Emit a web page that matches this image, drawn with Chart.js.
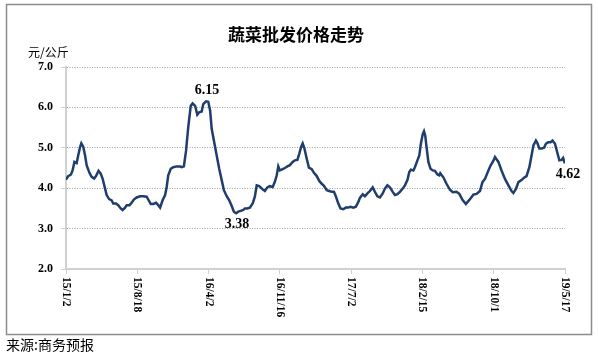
<!DOCTYPE html>
<html>
<head>
<meta charset="utf-8">
<script src="https://cdn.jsdelivr.net/npm/chart.js@4.4.0/dist/chart.umd.min.js"></script>
<style>
  body { margin: 0; background: #fff; }
</style>
</head>
<body>
<canvas id="priceChart" width="598" height="355"></canvas>
<script>
// days since 2015-01-02
const days = [
  0, 7, 16, 21, 27, 34, 39, 45, 49, 55, 61, 66, 75, 82, 90, 96, 104, 111, 117, 125,
  130, 138, 146, 151, 160, 167, 175, 181, 189, 194, 203, 210, 217, 226, 237, 247, 258, 263, 271, 279,
  288, 295, 301, 309, 317, 322, 327, 335, 343, 354, 365, 370, 377, 384, 391, 399, 405, 413, 420, 426,
  434, 439, 448, 455, 461, 466, 473, 482, 490, 498, 505, 514, 522, 530, 537, 544, 551, 559, 567, 572,
  580, 588, 597, 604, 610, 618, 629, 636, 644, 652, 661, 668, 674, 679, 684, 693, 700, 708, 716, 725,
  732, 740, 746, 752, 757, 762, 770, 777, 786, 793, 802, 810, 818, 825, 834, 842, 850, 857, 863, 871,
  878, 887, 895, 903, 910, 919, 927, 935, 940, 949, 956, 964, 972, 981, 988, 996, 1004, 1013, 1020, 1028,
  1036, 1045, 1052, 1060, 1068, 1077, 1084, 1092, 1098, 1103, 1111, 1116, 1124, 1130, 1135, 1141, 1145, 1149, 1153, 1159,
  1166, 1173, 1180, 1188, 1194, 1197, 1207, 1217, 1228, 1237, 1249, 1258, 1268, 1279, 1290, 1303, 1313, 1324, 1332, 1340,
  1351, 1358, 1367, 1372, 1383, 1393, 1404, 1415, 1425, 1431, 1439, 1447, 1457, 1465, 1473, 1482, 1489, 1495, 1503, 1507,
  1514, 1521, 1529, 1535, 1542, 1550, 1556, 1564, 1571, 1578, 1585, 1590, 1594, 1596
];
const prices = [
  4.21, 4.30, 4.34, 4.44, 4.65, 4.62, 4.81, 5.02, 5.11, 5.03, 4.81, 4.57, 4.38, 4.28, 4.24, 4.30, 4.43, 4.36, 4.24, 3.99,
  3.83, 3.73, 3.70, 3.62, 3.62, 3.58, 3.50, 3.46, 3.52, 3.58, 3.58, 3.64, 3.72, 3.77, 3.80, 3.80, 3.79, 3.72, 3.61, 3.61,
  3.64, 3.58, 3.52, 3.70, 3.83, 4.03, 4.32, 4.48, 4.52, 4.54, 4.54, 4.52, 4.54, 4.93, 5.51, 6.04, 6.10, 6.04, 5.82, 5.88,
  5.90, 6.08, 6.15, 6.14, 5.92, 5.47, 5.18, 4.81, 4.48, 4.20, 3.95, 3.80, 3.70, 3.56, 3.42, 3.38, 3.42, 3.44, 3.46, 3.50,
  3.50, 3.52, 3.62, 3.79, 4.07, 4.05, 3.97, 3.93, 4.02, 4.05, 4.03, 4.16, 4.32, 4.54, 4.44, 4.47, 4.50, 4.54, 4.57, 4.65,
  4.69, 4.70, 4.85, 5.02, 5.11, 5.00, 4.73, 4.51, 4.47, 4.38, 4.30, 4.18, 4.11, 4.06, 3.95, 3.93, 3.91, 3.91, 3.80, 3.62,
  3.50, 3.48, 3.52, 3.52, 3.54, 3.52, 3.54, 3.66, 3.76, 3.85, 3.80, 3.87, 3.93, 4.02, 3.91, 3.80, 3.77, 3.87, 3.99, 4.07,
  4.02, 3.91, 3.83, 3.85, 3.91, 3.99, 4.07, 4.20, 4.40, 4.46, 4.44, 4.52, 4.69, 4.81, 5.10, 5.34, 5.41, 5.30, 5.03, 4.65,
  4.48, 4.44, 4.43, 4.34, 4.32, 4.37, 4.27, 4.11, 3.96, 3.90, 3.91, 3.86, 3.71, 3.61, 3.71, 3.84, 3.86, 3.93, 4.15, 4.23,
  4.44, 4.56, 4.68, 4.77, 4.65, 4.44, 4.23, 4.07, 3.93, 3.88, 3.98, 4.15, 4.20, 4.26, 4.30, 4.52, 4.81, 5.06, 5.18, 5.13,
  4.98, 4.98, 5.00, 5.10, 5.14, 5.14, 5.18, 5.10, 4.89, 4.69, 4.70, 4.75, 4.65, 4.62
];
const tickDays = [0, 228, 456, 684, 912, 1140, 1368, 1596];
const tickLabels = ['15/1/2', '15/8/18', '16/4/2', '16/11/16', '17/7/2', '18/2/15', '18/10/1', '19/5/17'];

const titleText = '蔬菜批发价格走势';
const unitText = '元/公斤';
const sourceText = '来源:商务预报';

const lineColor = '#1f3d6d';
const serif = '"Liberation Serif", "DejaVu Serif", serif';
const cjk = '"Noto Sans CJK SC", sans-serif';

const points = days.map((d, i) => ({ x: d, y: prices[i] }));

// frame, title, unit, source, rotated date labels and value notes
const decorations = {
  id: 'decorations',
  beforeDraw(chart) {
    const ctx = chart.ctx;
    ctx.save();
    ctx.fillStyle = '#fff';
    ctx.fillRect(0, 0, chart.width, chart.height);
    ctx.strokeStyle = '#8c8c8c';
    ctx.lineWidth = 1.5;
    ctx.strokeRect(6.5, 4.5, 585, 330);
    ctx.restore();
  },
  afterDraw(chart) {
    const ctx = chart.ctx;
    const xs = chart.scales.x;
    const bottom = chart.chartArea.bottom;
    ctx.save();
    ctx.fillStyle = '#000';

    ctx.font = 'bold 17px ' + cjk;
    ctx.textAlign = 'center';
    ctx.textBaseline = 'middle';
    ctx.fillText(titleText, 296, 35);

    ctx.font = '12px ' + cjk;
    ctx.textAlign = 'left';
    ctx.fillText(unitText, 28, 52);

    ctx.font = '14px ' + cjk;
    ctx.fillText(sourceText, 6, 345);

    ctx.font = 'bold 11.5px ' + serif;
    tickDays.forEach((d, i) => {
      const x = xs.getPixelForValue(d);
      ctx.save();
      ctx.translate(x, bottom + 8);
      ctx.rotate(Math.PI / 2);
      ctx.textAlign = 'left';
      ctx.textBaseline = 'middle';
      ctx.fillText(tickLabels[i], 0, 0);
      ctx.restore();
    });

    const pts = chart.getDatasetMeta(0).data;
    let hi = 0, lo = 0;
    prices.forEach((p, i) => {
      if (p > prices[hi]) hi = i;
      if (p < prices[lo]) lo = i;
    });
    const last = prices.length - 1;
    ctx.font = 'bold 14px ' + serif;
    ctx.textAlign = 'center';
    ctx.fillText(prices[hi].toFixed(2), pts[hi].x + 1, pts[hi].y - 11);
    ctx.fillText(prices[lo].toFixed(2), pts[lo].x + 1, pts[lo].y + 11);
    ctx.fillText(prices[last].toFixed(2), pts[last].x + 3, pts[last].y + 11);
    ctx.restore();
  }
};

new Chart(document.getElementById('priceChart'), {
  type: 'line',
  data: {
    datasets: [{
      data: points,
      borderColor: lineColor,
      borderWidth: 2.5,
      pointRadius: 0,
      tension: 0,
      fill: false,
    }],
  },
  options: {
    responsive: false,
    animation: false,
    layout: { padding: { left: 0, right: 33, top: 67, bottom: 26 } },
    plugins: {
      legend: { display: false },
      tooltip: { enabled: false },
    },
    scales: {
      x: {
        type: 'linear',
        min: tickDays[0],
        max: tickDays[tickDays.length - 1],
        afterBuildTicks: (scale) => {
          scale.ticks = tickDays.map((v) => ({ value: v }));
        },
        afterFit: (scale) => { scale.height = 60; },
        ticks: { display: false },
        grid: {
          drawOnChartArea: false,
          drawTicks: true,
          tickLength: 5,
          color: '#d0d0d0',
        },
        border: { color: '#d0d0d0', width: 2 },
      },
      y: {
        min: 2,
        max: 7,
        afterFit: (scale) => { scale.width = 66; },
        ticks: {
          stepSize: 1,
          padding: 8,
          color: '#000',
          font: { family: serif, size: 12, weight: 'bold' },
          callback: (v) => v.toFixed(1),
        },
        grid: {
          color: '#a0a0a0',
          lineWidth: 1,
          tickLength: 5,
          tickColor: '#d0d0d0',
        },
        border: { color: '#d0d0d0', width: 2, dash: [1, 1.5] },
      },
    },
  },
  plugins: [decorations],
});
</script>
</body>
</html>
